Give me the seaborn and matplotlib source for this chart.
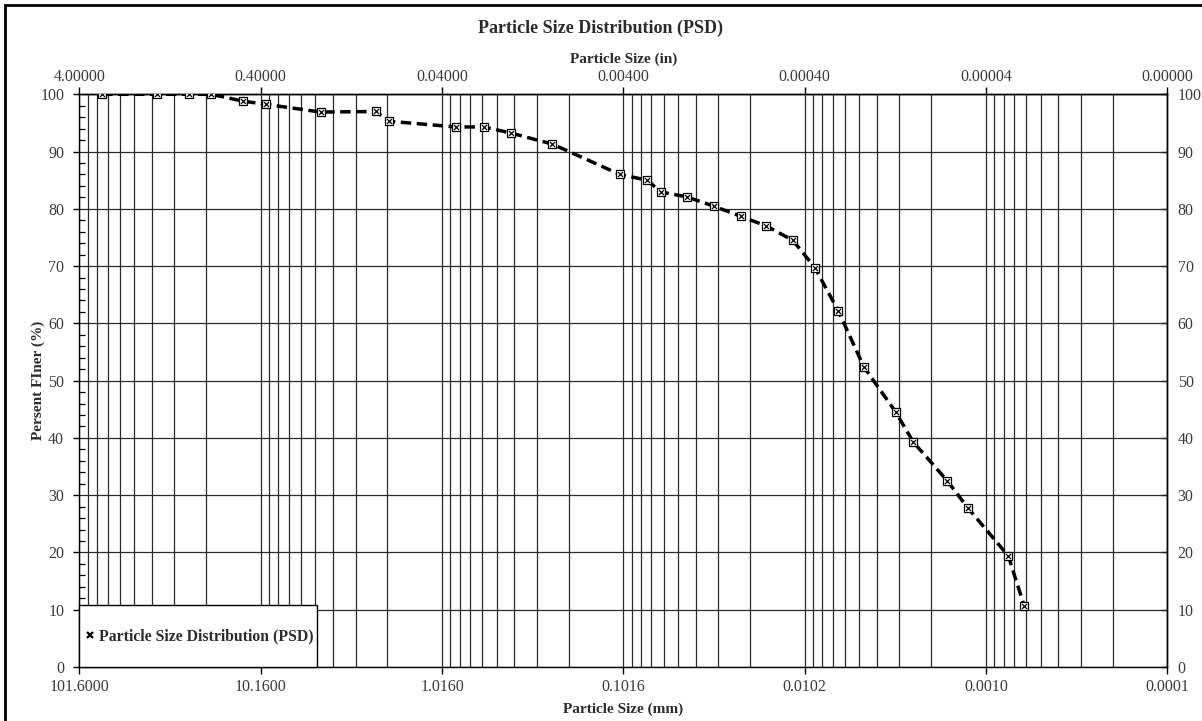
import numpy as np
import pandas as pd
import matplotlib
matplotlib.use("Agg")
import matplotlib.pyplot as plt
import seaborn as sns
from matplotlib.ticker import FixedLocator, FuncFormatter, NullLocator, MultipleLocator
from matplotlib.lines import Line2D
from matplotlib.patches import Rectangle

# Sieve + hydrometer results: particle diameter (mm) and percent passing
particle_size_mm = [76.2, 38.1, 25.4, 19.05, 12.7, 9.525, 4.75, 2.36, 2.0, 0.85,
                    0.6, 0.425, 0.25, 0.106, 0.075, 0.0632, 0.0455, 0.0321, 0.0229,
                    0.0165, 0.0118, 0.00893, 0.00662, 0.00479, 0.0032, 0.00256,
                    0.00166, 0.00128, 0.000765, 0.000625]
percent_finer = [100, 100, 100, 100, 98.8, 98.25, 96.9, 97.0, 95.3, 94.3,
                 94.3, 93.25, 91.3, 86.0, 85.0, 82.95, 82.1, 80.45, 78.7,
                 77.0, 74.5, 69.75, 62.15, 52.4, 44.55, 39.3,
                 32.5, 27.8, 19.4, 10.65]

mm_ticks = [101.6, 10.16, 1.016, 0.1016, 0.01016, 0.001016, 0.0001016]
in_ticks = [4.0, 0.4, 0.04, 0.004, 0.0004, 0.00004, 0.000004]
y_ticks = list(range(0, 101, 10))
series_name = "Particle Size Distribution (PSD)"

df = pd.DataFrame({"size_mm": particle_size_mm, "finer": percent_finer})

sns.set_theme(style="white")
plt.rcParams["font.family"] = ["Liberation Serif", "DejaVu Serif"]
plt.rcParams["axes.edgecolor"] = "black"
plt.rcParams["axes.linewidth"] = 1.0

text_col = "#2b2b2b"
tick_col = "#3a3a3a"
tick_fs = 11.5

fig = plt.figure(figsize=(12.02, 7.21), dpi=100)
fig.patch.set_facecolor("white")
ax = fig.add_axes([0.0661, 0.0749, 0.9050, 0.7943])

ax.set_xscale("log")
ax.set_xlim(101.6, 0.0001016)
ax.set_ylim(0, 100)

# grid lines at every 2..9 multiple inside each decade of the 101.6 mm scale
grid_pos = []
for k in range(6):
    base = 10.16 * 10.0 ** (-k)
    for m in range(2, 10):
        grid_pos.append(base * m)
ax.xaxis.set_major_locator(FixedLocator(mm_ticks))
ax.xaxis.set_minor_locator(FixedLocator(grid_pos))
ax.xaxis.set_major_formatter(FuncFormatter(lambda v, p: f"{v:.4f}"))
ax.xaxis.set_minor_formatter(FuncFormatter(lambda v, p: ""))
ax.yaxis.set_major_locator(FixedLocator(y_ticks))
ax.yaxis.set_minor_locator(MultipleLocator(2))
ax.yaxis.set_major_formatter(FuncFormatter(lambda v, p: f"{v:.0f}"))

ax.grid(True, which="major", axis="both", color="#2a2a2a", lw=0.9)
ax.grid(True, which="minor", axis="x", color="#2a2a2a", lw=0.9)
ax.set_axisbelow(True)

ax.tick_params(axis="x", which="major", direction="out", length=5, width=1,
               bottom=True, top=False, labelsize=tick_fs, labelcolor=tick_col,
               pad=4, color="black")
ax.tick_params(axis="x", which="minor", length=0)
ax.tick_params(axis="y", which="major", direction="out", length=4, width=1,
               left=True, right=False, labelsize=tick_fs, labelcolor=tick_col,
               pad=7, color="black")
ax.tick_params(axis="y", which="minor", direction="in", length=4, width=0.9,
               left=True, right=False, color="black")

for s in ax.spines.values():
    s.set_color("black")
    s.set_linewidth(1.0)

# dashed curve with markers
sns.lineplot(data=df, x="size_mm", y="finer", ax=ax, color="black", lw=2.5,
             linestyle=(0, (3, 1.6)), sort=False, estimator=None, legend=False,
             zorder=4)
sns.scatterplot(data=df, x="size_mm", y="finer", ax=ax, marker="s", s=28,
                facecolor="white", edgecolor="black", linewidth=0.9,
                legend=False, zorder=5)
sns.scatterplot(data=df, x="size_mm", y="finer", ax=ax, marker="x", s=13,
                color="black", linewidth=0.9, legend=False, zorder=6)

# top axis in inches
ax_top = ax.secondary_xaxis("top", functions=(lambda x: x / 25.4, lambda x: x * 25.4))
ax_top.xaxis.set_major_locator(FixedLocator(in_ticks))
ax_top.xaxis.set_minor_locator(NullLocator())
ax_top.xaxis.set_major_formatter(FuncFormatter(lambda v, p: f"{v:.5f}"))
ax_top.tick_params(axis="x", which="major", direction="out", length=5, width=1,
                   labelsize=tick_fs, labelcolor=tick_col, pad=2, color="black")
ax_top.tick_params(axis="x", which="minor", length=0)
ax_top.set_xlabel("Particle Size (in)", fontsize=11, fontweight="bold",
                  color=text_col, labelpad=4.5)

# right-hand percent axis
ax_right = ax.secondary_yaxis("right")
ax_right.yaxis.set_major_locator(FixedLocator(y_ticks))
ax_right.yaxis.set_minor_locator(NullLocator())
ax_right.yaxis.set_major_formatter(FuncFormatter(lambda v, p: f"{v:.0f}"))
ax_right.tick_params(axis="y", which="major", direction="in", length=4, width=1,
                     labelsize=tick_fs, labelcolor=tick_col, pad=7.5, color="black")

ax.set_xlabel("Particle Size (mm)", fontsize=11, fontweight="bold",
              color=text_col, labelpad=5)
ax.set_ylabel("Persent FIner (%)", fontsize=11, fontweight="bold",
              color=text_col)
ax.yaxis.set_label_coords(-0.0317, 0.5)

fig.text(0.5, 1 - 28 / 721, "Particle Size Distribution (PSD)", ha="center",
         va="center", fontsize=13, fontweight="bold", color=text_col)

# legend box at the lower-left corner of the plot
box = Rectangle((0, 0), 0.2183, 0.108, transform=ax.transAxes, facecolor="white",
                edgecolor="black", lw=1.0, zorder=7, clip_on=False)
ax.add_patch(box)
handle = Line2D([], [], linestyle="none", marker="x", markersize=5,
                markeredgewidth=1.6, color="black")
leg = ax.legend([handle], [series_name], loc="center left",
                bbox_to_anchor=(0.004, 0.054), frameon=False,
                handlelength=0.8, handletextpad=0.2, borderpad=0, borderaxespad=0,
                prop={"weight": "bold", "size": 11.3})
for t in leg.get_texts():
    t.set_color(text_col)
leg.set_zorder(8)

# outer frame: left and top inset, right and bottom running along the edge
fig.patches.append(Rectangle((5 / 1202, -0.01), 1.02, 1 - 5 / 721 + 0.01,
                             transform=fig.transFigure, fill=False, lw=2.0,
                             edgecolor="black", zorder=10))

fig.savefig("out.png", dpi=100, facecolor="white")
